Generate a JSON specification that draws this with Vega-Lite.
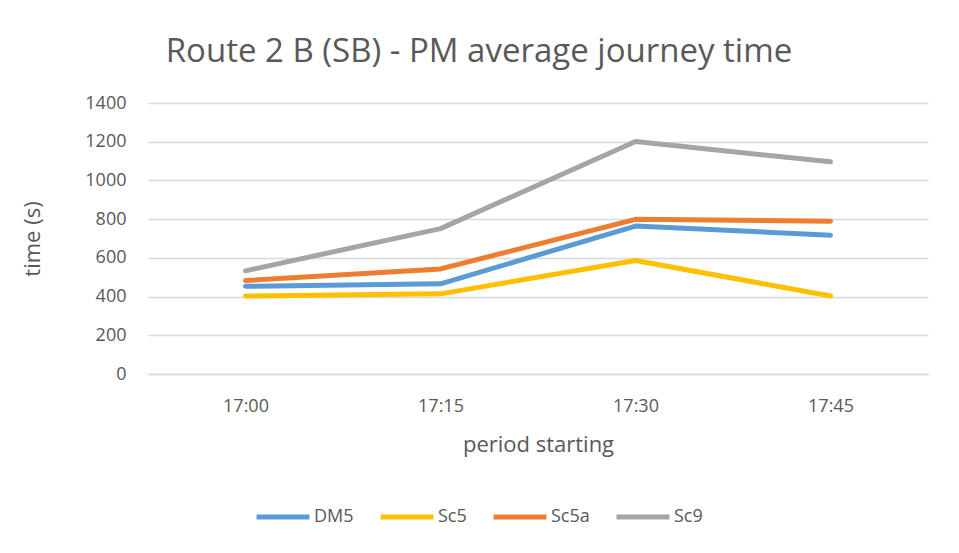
{
  "$schema": "https://vega.github.io/schema/vega-lite/v6.json",
  "width": 780,
  "height": 271,
  "autosize": "none",
  "padding": {"left": 148, "top": 103, "right": 31, "bottom": 179},
  "background": "white",
  "title": {
    "text": "Route 2 B (SB) - PM average journey time",
    "anchor": "middle",
    "dx": -59,
    "offset": 25,
    "fontSize": 33,
    "font": "Open Sans",
    "fontWeight": "normal",
    "color": "#595959"
  },
  "data": {
    "values": [
      {"period": "17:00", "scenario": "DM5", "time": 453},
      {"period": "17:15", "scenario": "DM5", "time": 466},
      {"period": "17:30", "scenario": "DM5", "time": 764},
      {"period": "17:45", "scenario": "DM5", "time": 717},
      {"period": "17:00", "scenario": "Sc5", "time": 403},
      {"period": "17:15", "scenario": "Sc5", "time": 414},
      {"period": "17:30", "scenario": "Sc5", "time": 586},
      {"period": "17:45", "scenario": "Sc5", "time": 403},
      {"period": "17:00", "scenario": "Sc5a", "time": 483},
      {"period": "17:15", "scenario": "Sc5a", "time": 543},
      {"period": "17:30", "scenario": "Sc5a", "time": 799},
      {"period": "17:45", "scenario": "Sc5a", "time": 789},
      {"period": "17:00", "scenario": "Sc9", "time": 533},
      {"period": "17:15", "scenario": "Sc9", "time": 751},
      {"period": "17:30", "scenario": "Sc9", "time": 1201},
      {"period": "17:45", "scenario": "Sc9", "time": 1096}
    ]
  },
  "mark": {"type": "line", "strokeWidth": 5, "strokeCap": "round", "strokeJoin": "round"},
  "encoding": {
    "x": {
      "field": "period",
      "type": "ordinal",
      "scale": {"type": "point", "padding": 0.5},
      "axis": {
        "title": "period starting",
        "labelAngle": 0,
        "labelPadding": 23,
        "titlePadding": 19,
        "ticks": false,
        "domainColor": "#d9d9d9",
        "domainWidth": 1.5
      }
    },
    "y": {
      "field": "time",
      "type": "quantitative",
      "scale": {"domain": [0, 1400]},
      "axis": {
        "title": "time (s)",
        "format": "d",
        "values": [0, 200, 400, 600, 800, 1000, 1200, 1400],
        "labelPadding": 22,
        "titlePadding": 40,
        "ticks": false,
        "domain": false,
        "gridColor": "#d9d9d9",
        "gridWidth": 1.5
      }
    },
    "color": {
      "field": "scenario",
      "type": "nominal",
      "scale": {
        "domain": ["DM5", "Sc5", "Sc5a", "Sc9"],
        "range": ["#5b9bd5", "#ffc000", "#ed7d31", "#a5a5a5"]
      },
      "legend": {
        "title": null,
        "orient": "none",
        "direction": "horizontal",
        "legendX": 106,
        "legendY": 385,
        "symbolType": "stroke",
        "symbolStrokeWidth": 5,
        "symbolSize": 2800,
        "labelOffset": 2,
        "columnPadding": 16
      }
    }
  },
  "config": {
    "view": {"stroke": null},
    "font": "Open Sans",
    "axis": {
      "labelFont": "Open Sans",
      "titleFont": "Open Sans",
      "labelFontSize": 18,
      "titleFontSize": 22,
      "titleFontWeight": "normal",
      "labelColor": "#595959",
      "titleColor": "#595959"
    },
    "legend": {
      "labelFont": "Open Sans",
      "labelFontSize": 18,
      "labelColor": "#595959"
    }
  }
}
